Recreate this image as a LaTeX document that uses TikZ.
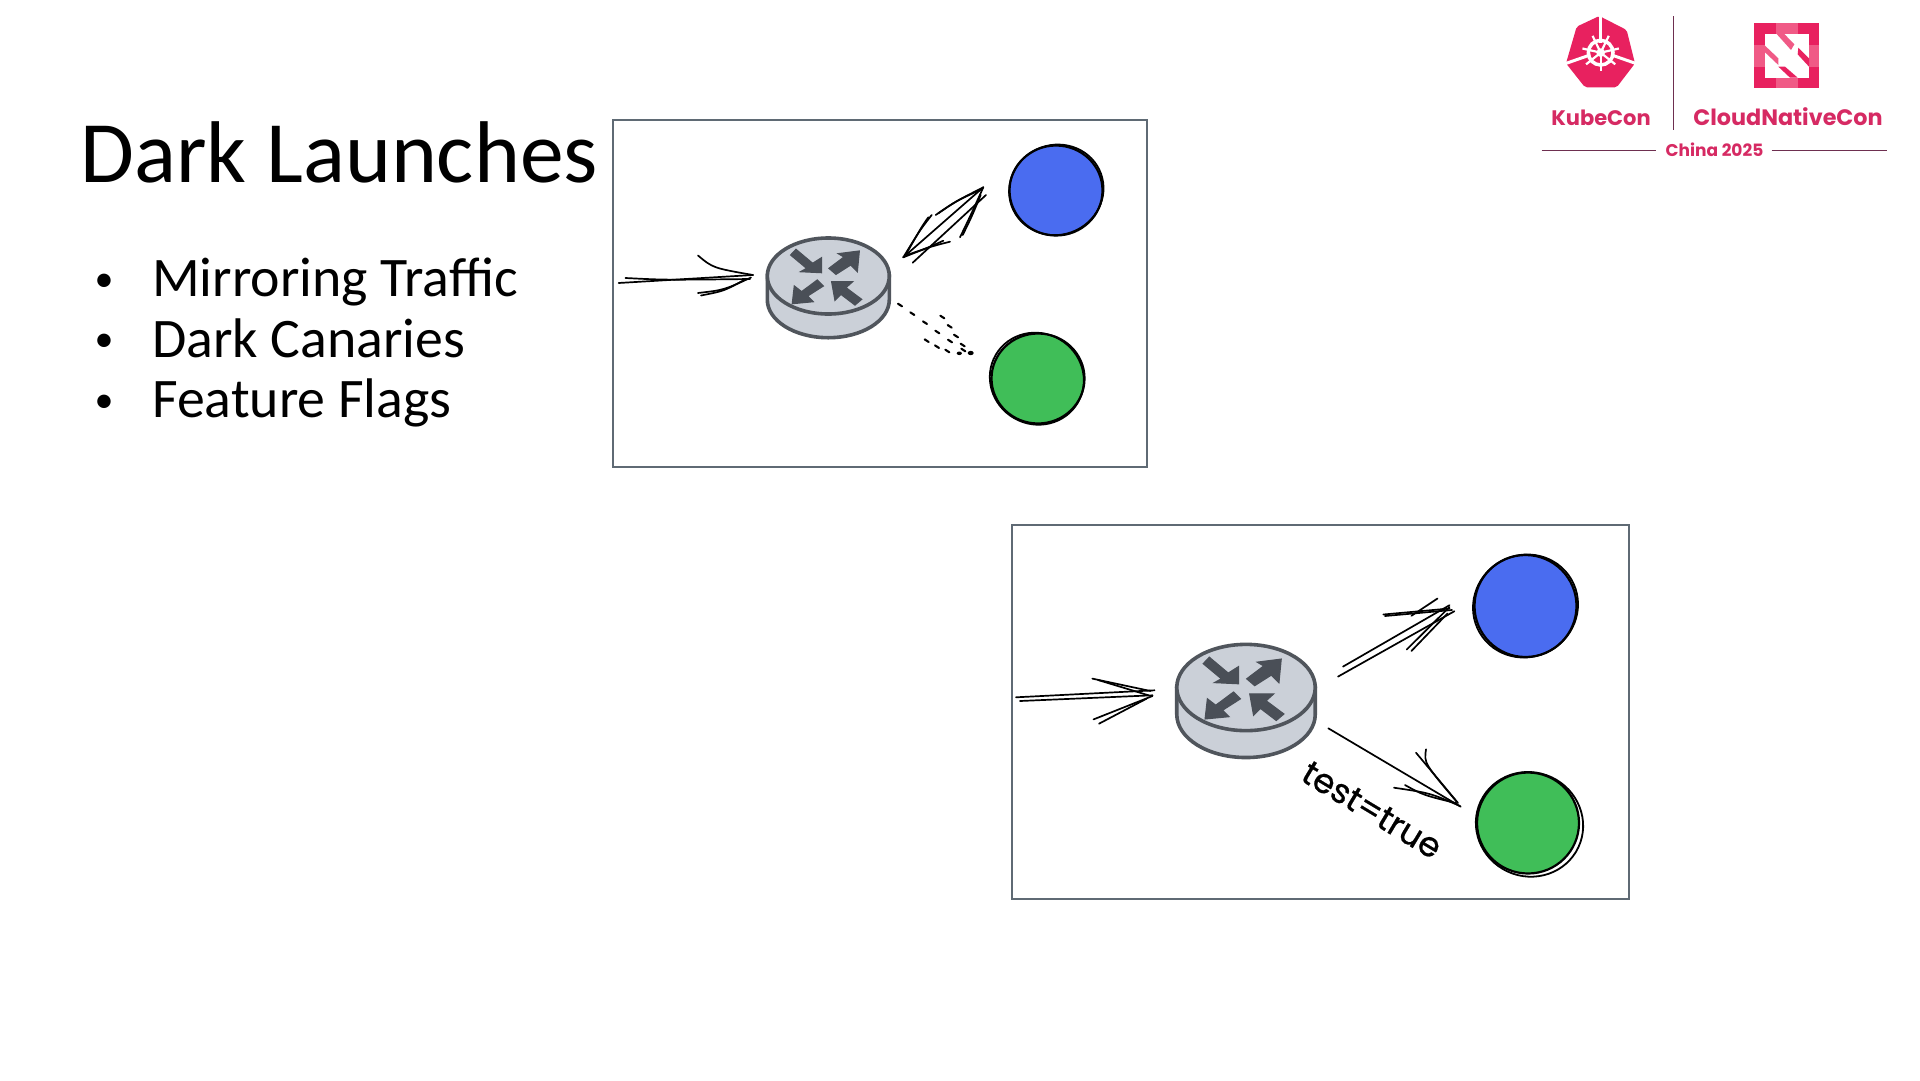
\documentclass[tikz,border=0pt]{standalone}
\usepackage{fontspec}
\setmainfont{Carlito}
\newfontfamily\logofont{Poppins}
\newfontfamily\handfont[FakeBold=0.7]{Poppins}
\usetikzlibrary{shapes.geometric}
\definecolor{boxline}{HTML}{5F6A74}
\definecolor{routerfill}{HTML}{CBD0D8}
\definecolor{routerline}{HTML}{50555C}
\definecolor{routericon}{HTML}{4A4F57}
\definecolor{bluefill}{HTML}{4A6CF0}
\definecolor{greenfill}{HTML}{40BE58}
\definecolor{kcpink}{HTML}{E8215F}
\definecolor{kclight}{HTML}{F05A86}
\definecolor{kctext}{HTML}{D62A63}
\definecolor{kcline}{HTML}{6E2F50}
\tikzset{
  framebox/.style={draw=boxline,line width=2pt,fill=white},
  sketch/.style={draw=black,line width=1.7pt,line cap=round,line join=round},
  outline/.style={draw=black,line width=1.8pt},
  planet/.style={ellipse,inner sep=0pt,draw=black,line width=2.2pt},
  titletext/.style={anchor=base west,inner sep=0pt,font=\fontsize{87.6}{88}\selectfont},
  bullettext/.style={anchor=base west,inner sep=0pt,font=\fontsize{55.8}{56}\selectfont},
  bulletdot/.style={anchor=base,inner sep=0pt,font=\fontsize{38}{38}\selectfont},
  logotext/.style={anchor=base,inner sep=0pt,text=kctext},
  routerpic/.pic={
    \path[draw=routerline,fill=routerfill,line width=3.6pt]
      (-61,0) -- (-61,23.7) arc[start angle=180,end angle=0,x radius=61,y radius=38] -- (61,0) -- cycle;
    \path[draw=routerline,fill=routerfill,line width=3.6pt] (0,0) ellipse[x radius=61,y radius=38];
    \begin{scope}[scale=1/3,shift={(-205,-135)}]
      \filldraw[routericon,line width=1.2pt] (108,55) -- (158,97) -- (185,80) -- (185,125) -- (122,122) -- (140,112) -- (92,72) -- cycle;
      \filldraw[routericon,line width=1.2pt] (207,112) -- (252,78) -- (235,68) -- (298,60) -- (292,122) -- (272,102) -- (228,130) -- cycle;
      \filldraw[routericon,line width=1.2pt] (172,147) -- (125,182) -- (103,165) -- (97,218) -- (160,212) -- (143,195) -- (190,165) -- cycle;
      \filldraw[routericon,line width=1.2pt] (305,205) -- (258,170) -- (278,152) -- (215,152) -- (225,208) -- (243,190) -- (285,222) -- cycle;
    \end{scope}
  }
}
\begin{document}
\begin{tikzpicture}[x=1pt,y=-1pt]
\useasboundingbox (0,0) rectangle (1920,1080);
\fill[white] (0,0) rectangle (1920,1080);

% title and bullets
\node[titletext] (title) at (80,182) {Dark Launches};
\node[bullettext] (b1) at (152,296.5) {Mirroring Traffic};
\node[bullettext] (b2) at (152,357) {Dark Canaries};
\node[bullettext] (b3) at (152,417.5) {Feature Flags};
\node[bulletdot] (d1) at (104,291) {•};
\node[bulletdot] (d2) at (104,351.5) {•};
\node[bulletdot] (d3) at (104,412) {•};

% frames
\draw[framebox] (612.5,120) rectangle (1146.5,467);
\draw[framebox] (1011.5,525) rectangle (1628.5,899);

% routers
\pic at (828.3,276) {routerpic};
\pic[scale=1.135] at (1246,687.5) {routerpic};

% top frame circles
\node[planet,fill=bluefill,minimum width=93pt,minimum height=90pt] (blueA) at (1056,190.5) {};
\draw[outline,rotate around={20:(1056,190.5)}] (1056.5,190) ellipse[x radius=47.5,y radius=45];
\node[planet,fill=greenfill,minimum width=93pt,minimum height=90pt] (greenA) at (1038,378.5) {};
\draw[outline,rotate around={-30:(1037.5,378.5)}] (1037,379) ellipse[x radius=47.5,y radius=45.5];

% bottom frame circles
\node[planet,fill=bluefill,minimum width=102pt,minimum height=102pt] (blueB) at (1525.5,606) {};
\draw[outline,rotate around={30:(1525.5,606)}] (1525.5,606) ellipse[x radius=53,y radius=51];
\node[planet,fill=greenfill,minimum width=102pt,minimum height=101pt] (greenB) at (1528,823) {};
\draw[outline,rotate around={-25:(1529,823)}] (1530,824) ellipse[x radius=54,y radius=52];

% connector ends
\coordinate (inAs) at (618.6,283);
\coordinate (inAe) at (753,275);
\coordinate (upAs) at (903.3,257.3);
\coordinate (upAe) at (983.3,187.3);
\coordinate (inBs) at (1016,697.3);
\coordinate (inBe) at (1154.5,690.3);
\coordinate (upBs) at (1338,676.6);
\coordinate (upBe) at (1454.4,611.2);
\coordinate (dnBs) at (1328.3,728.3);
\coordinate (dnBe) at (1460.7,806.7);

% input arrow, top frame
\draw[sketch] (inAs) -- (inAe);
\draw[sketch] (625.5,278) .. controls (665,280) .. (750,279);
\draw[sketch] (698,255.5) .. controls (713,268) .. (inAe);
\draw[sketch] (698,293) .. controls (724,290) .. (751,277.5);
\draw[sketch] (701,295.5) .. controls (724,291) .. (744,280);

% sketched arrow to blue, top frame
\draw[sketch] (upAs) -- (upAe);
\draw[sketch] (912.7,262.7) -- (986,195);
\draw[sketch] (upAe) .. controls (955,201.7) .. (935.7,215);
\draw[sketch] (980,190) .. controls (956.7,200.7) .. (938.3,213.3);
\draw[sketch] (upAe) .. controls (970,216.7) .. (960,237.3);
\draw[sketch] (980.7,195) .. controls (971.7,216.7) .. (962.7,235);
\draw[sketch] (upAs) .. controls (920,230) .. (931.7,215);
\draw[sketch] (905,256) .. controls (921.7,226.7) .. (928.3,217.3);
\draw[sketch] (upAs) .. controls (930,246.7) .. (950,241.7);
\draw[sketch] (906.7,255) .. controls (926.7,248.3) .. (943.3,240.7);

% dotted arrow to green, top frame
\foreach \px/\py in {30/375,67/401,105/428,142/456,180/483,157/411,179/439,198/468,218/495,110/482,141/500,172/513,220/510}
  \draw[sketch,line width=2.1pt] ({890+\px/3-2},{180+\py/3-1.3}) -- ({890+\px/3+2},{180+\py/3+1.3});
\fill[black] (959.3,353.3) ellipse[x radius=2.6,y radius=1.8];
\fill[black] (970.7,353) ellipse[x radius=3,y radius=2.2];

% input arrow, bottom frame
\draw[sketch] (inBs) -- (inBe);
\draw[sketch] (1020,701) -- (1152.5,695.3);
\draw[sketch] (1092.3,678.6) -- (1150.5,691);
\draw[sketch] (1098,680) -- (1148.5,695.3);
\draw[sketch] (1093.5,719.4) -- (1152.5,696);
\draw[sketch] (1099,723.7) -- (1146.5,698.7);

% arrow to blue, bottom frame
\draw[sketch] (upBs) -- (upBe);
\draw[sketch] (1343,666.6) -- (1449.5,605.2);
\draw[sketch] (1383.3,614.5) -- (1449.5,608.5);
\draw[sketch] (1385,616) -- (1452,610);
\draw[sketch] (1437.5,598.5) -- (1411.4,615.8);
\draw[sketch] (1406.6,649.6) -- (1449.5,607);
\draw[sketch] (1411.4,651) -- (1447.5,613.5);

% arrow to green, bottom frame
\draw[sketch] (dnBs) -- (dnBe);
\draw[sketch] (1416,752.7) .. controls (1433,773) .. (1458,803);
\draw[sketch] (1426,749.3) .. controls (1424,763) .. (1456.7,801.7);
\draw[sketch] (1394,787.7) .. controls (1430,793) .. (1460,806);
\draw[sketch] (1405,785) .. controls (1423,795) .. (1456.7,803.3);
\node[rotate=-31,inner sep=0pt,font=\handfont\fontsize{34}{34}\selectfont] (cond) at (1372,810) {test=true};

% KubeCon logo
\begin{scope}[shift={(1560,10)},scale=1/3]
  \fill[kcpink,rounded corners=2pt] (118,18) -- (200,60) -- (225,160) -- (170,232) -- (75,232) -- (18,160) -- (50,50) -- cycle;
  \draw[white,line width=3pt] (122,14) -- (122,100);
  \draw[white,line width=3pt] (10,163) -- (90,135);
  \draw[white,line width=3pt] (235,163) -- (155,135);
  \foreach \a in {90,141.4,192.9,244.3,295.7,347.1,38.6}
    \draw[white,line width=2.2pt] (122,128) -- ++({\a}:56);
  \draw[white,line width=3.5pt] (122,128) circle[radius=37];
  \fill[white] (122,128) circle[radius=13];
\end{scope}
\coordinate (dividerTop) at (1673.5,16);
\coordinate (dividerEnd) at (1673.5,130);
\draw[kcline,line width=1.5pt] (dividerTop) -- (dividerEnd);
% CNCF logo
\begin{scope}[shift={(1745,15)},scale=1/3]
  \fill[kcpink] (28,25) rectangle (222,220);
  \fill[kclight] (92,25) rectangle (158,220);
  \fill[kclight] (28,90) rectangle (222,155);
  \fill[kcpink] (28,25) rectangle (92,90);
  \fill[kcpink] (158,25) rectangle (222,90);
  \fill[kcpink] (28,155) rectangle (92,220);
  \fill[kcpink] (158,155) rectangle (222,220);
  \fill[white] (60,57) rectangle (192,188);
  \fill[kclight] (95,57) -- (118,57) -- (148,88) -- (138,105) -- cycle;
  \fill[kcpink] (160,98) -- (192,130) -- (192,155) -- (158,118) -- cycle;
  \fill[kclight] (60,92) -- (100,130) -- (100,150) -- (60,112) -- cycle;
  \fill[kcpink] (100,155) -- (120,155) -- (158,188) -- (135,188) -- cycle;
\end{scope}
\node[logotext,font=\logofont\bfseries\fontsize{21}{21}\selectfont] (kube) at (1601,125) {KubeCon};
\node[logotext,font=\logofont\bfseries\fontsize{22.3}{22.3}\selectfont] (cloud) at (1788,125) {CloudNativeCon};
\node[logotext,font=\logofont\bfseries\fontsize{17}{17}\selectfont] (china) at (1714.5,156.5) {China 2025};
\coordinate (lineAs) at (1541.7,150.5);
\coordinate (lineAe) at (1656,150.5);
\coordinate (lineBs) at (1771.7,150.5);
\coordinate (lineBe) at (1886.7,150.5);
\draw[kcline,line width=1.2pt] (lineAs) -- (lineAe);
\draw[kcline,line width=1.2pt] (lineBs) -- (lineBe);
\end{tikzpicture}
\end{document}
